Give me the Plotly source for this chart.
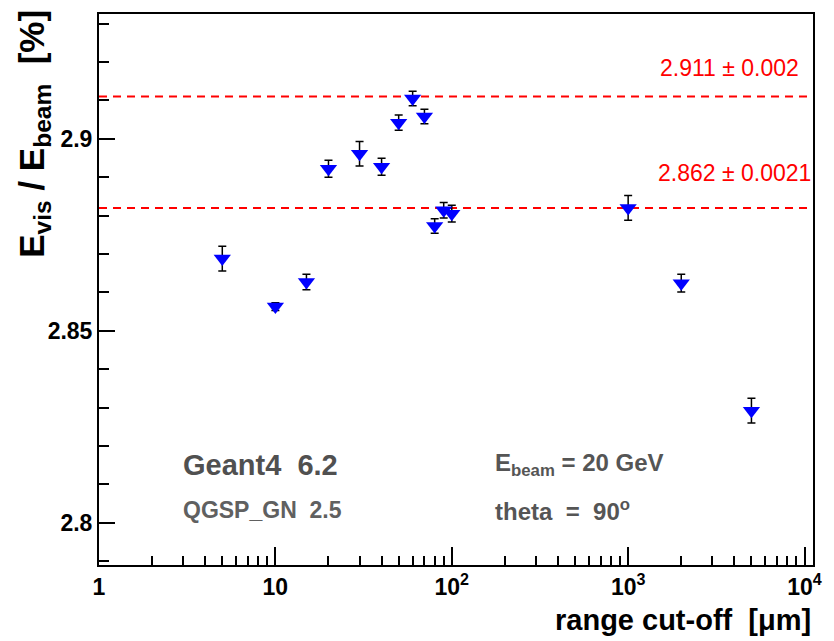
import plotly.graph_objects as go

# ---- data ----
cutoff_um = [5, 10, 15, 20, 30, 40, 50, 60, 70, 80, 90, 100, 1000, 2000, 5000]
evis_pct = [2.8688, 2.8563, 2.8627, 2.8922, 2.8961, 2.8927, 2.9042, 2.9105,
            2.9058, 2.8773, 2.8814, 2.8805, 2.8820, 2.8624, 2.8292]
evis_err = [0.0032, 0.0010, 0.0020, 0.0022, 0.0032, 0.0022, 0.0020, 0.0019,
            0.0019, 0.0019, 0.0020, 0.0022, 0.0032, 0.0023, 0.0032]

fit_levels = [2.911, 2.882]
fit_labels = ["2.911 \u00b1 0.002", "2.862 \u00b1 0.0021"]

x_tickvals = [1, 10, 100, 1000, 10000]
x_ticktext = ["1", "10", "10<sup>2</sup>", "10<sup>3</sup>", "10<sup>4</sup>"]
x_minor = [m * d for d in [1, 10, 100, 1000] for m in range(2, 10)]
y_tickvals = [2.8, 2.85, 2.9]
y_ticktext = ["2.8", "2.85", "2.9"]

FONT = "Liberation Sans, Arial, sans-serif"

fig = go.Figure()
fig.add_trace(go.Scatter(
    x=cutoff_um, y=evis_pct, mode="markers",
    marker=dict(symbol="triangle-down", size=15, color="#0000ff", line=dict(width=0)),
    error_y=dict(type="data", array=evis_err, visible=True, color="black",
                 thickness=1.5, width=4),
    showlegend=False,
))

shapes = []
for lv in fit_levels:
    shapes.append(dict(type="line", xref="paper", x0=0, x1=1, yref="y", y0=lv, y1=lv,
                       line=dict(color="red", width=2, dash="8px,6px"), layer="below"))

annotations = [
    dict(text=fit_labels[0], xref="paper", yref="paper", x=0.9834, y=0.902,
         xanchor="right", yanchor="middle", showarrow=False,
         font=dict(family=FONT, size=23, color="red")),
    dict(text=fit_labels[1], xref="paper", yref="paper", x=0.9998, y=0.7114,
         xanchor="right", yanchor="middle", showarrow=False,
         font=dict(family=FONT, size=23, color="red")),
    dict(text="<b>Geant4  6.2</b>", xref="paper", yref="paper", x=0.1148, y=0.1815,
         xanchor="left", yanchor="middle", showarrow=False,
         font=dict(family=FONT, size=29, color="#505050")),
    dict(text="<b>QGSP_GN  2.5</b>", xref="paper", yref="paper", x=0.1148, y=0.0998,
         xanchor="left", yanchor="middle", showarrow=False,
         font=dict(family=FONT, size=23, color="#606060")),
    dict(text="<b>E<sub>beam</sub> = 20 GeV</b>", xref="paper", yref="paper", x=0.5519, y=0.1815,
         xanchor="left", yanchor="middle", showarrow=False,
         font=dict(family=FONT, size=24, color="#555555")),
    dict(text="<b>theta  =  90<sup>o</sup></b>", xref="paper", yref="paper", x=0.5519, y=0.0998,
         xanchor="left", yanchor="middle", showarrow=False,
         font=dict(family=FONT, size=24, color="#555555")),
    dict(text="<b>E<sub>vis</sub> / E<sub>beam</sub>  [%]</b>", xref="paper", yref="paper",
         x=-0.0913, y=1.011, xanchor="center", yanchor="top", textangle=-90,
         showarrow=False, font=dict(family=FONT, size=35, color="black")),
    dict(text="<b>range cut-off  [\u03bcm]</b>", xref="paper", yref="paper",
         x=1.0, y=-0.0998, xanchor="right", yanchor="middle", showarrow=False,
         font=dict(family=FONT, size=29, color="black")),
]

fig.update_layout(
    width=834, height=641,
    margin=dict(l=99, r=12, t=14, b=76),
    paper_bgcolor="white", plot_bgcolor="white",
    shapes=shapes, annotations=annotations,
    xaxis=dict(type="log", range=[0, 4.048], tickmode="array",
               tickvals=x_tickvals, ticktext=x_ticktext,
               ticks="inside", ticklen=18, tickwidth=1.5, tickcolor="black",
               showline=True, linecolor="black", linewidth=2, mirror=True,
               showgrid=False, zeroline=False,
               tickfont=dict(family=FONT, size=23, color="black", weight="bold"),
               minor=dict(tickmode="array", tickvals=x_minor, ticks="inside",
                          ticklen=9, tickwidth=1.5, tickcolor="black", showgrid=False)),
    yaxis=dict(range=[2.789, 2.9325], tickmode="array",
               tickvals=y_tickvals, ticktext=y_ticktext,
               ticks="inside", ticklen=16, tickwidth=1.5, tickcolor="black",
               showline=True, linecolor="black", linewidth=2, mirror=True,
               showgrid=False, zeroline=False,
               tickfont=dict(family=FONT, size=23, color="black", weight="bold"),
               minor=dict(dtick=0.01, tick0=0, ticks="inside", ticklen=10,
                          tickwidth=1.5, tickcolor="black", showgrid=False)),
)

fig.write_html("out.html")
